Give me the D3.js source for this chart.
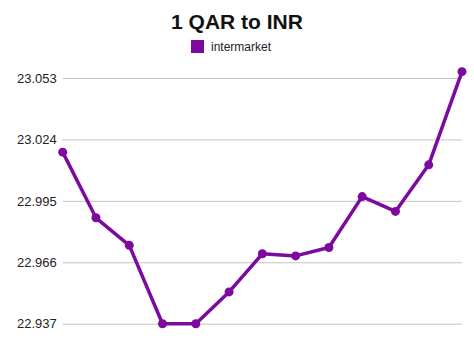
<!DOCTYPE html>
<html>
<head>
<meta charset="utf-8">
<script src="https://cdn.jsdelivr.net/npm/d3@7"></script>
<style>
  body { margin: 0; background: #fff; }
  text { font-family: "Liberation Sans", Arial, Helvetica, sans-serif; }
</style>
</head>
<body>
<svg class="chart"></svg>
<script>
const seriesName = "intermarket"
const values = [23.018, 22.987, 22.974, 22.937, 22.937, 22.952, 22.970, 22.969, 22.973, 22.997, 22.990, 23.012, 23.056]
const yTicks = [22.937, 22.966, 22.995, 23.024, 23.053]
const lineColor = "#7d0a9e"

const width = 474, height = 355
const margin = {top: 78, right: 12, bottom: 31.3, left: 62.7}

const svg = d3.select(".chart")
    .attr("width", width)
    .attr("height", height)

svg.append("rect")
    .attr("width", width)
    .attr("height", height)
    .attr("fill", "#fff")

svg.append("text")
    .attr("x", 237)
    .attr("y", 29)
    .attr("text-anchor", "middle")
    .attr("font-size", 21)
    .attr("font-weight", "bold")
    .attr("fill", "#111")
    .text("1 QAR to INR")

// legend
svg.append("rect")
    .attr("x", 191)
    .attr("y", 40)
    .attr("width", 13)
    .attr("height", 13)
    .attr("fill", lineColor)

svg.append("text")
    .attr("x", 211)
    .attr("y", 50.5)
    .attr("font-size", 12)
    .attr("fill", "#222")
    .text(seriesName)

const xScale = d3.scaleLinear()
    .domain([0, values.length - 1])
    .range([margin.left, width - margin.right])

const yScale = d3.scaleLinear()
    .domain([22.937, 23.053])
    .range([height - margin.bottom, margin.top])

// gridlines + labels
const yAxis = svg.append("g")
    .attr("transform", `translate(${margin.left},0)`)
    .call(d3.axisLeft(yScale)
        .tickValues(yTicks)
        .tickFormat(d3.format(".3f"))
        .tickSize(-(width - margin.right - margin.left))
        .tickPadding(6))

yAxis.select(".domain").remove()
yAxis.selectAll(".tick line")
    .attr("stroke", "#c4c4c4")
    .attr("stroke-width", 1)
yAxis.selectAll(".tick text")
    .attr("font-size", 13)
    .attr("font-family", "Liberation Sans, Arial, sans-serif")
    .attr("fill", "#222")

const line = d3.line()
    .x((d, i) => xScale(i))
    .y(d => yScale(d))

svg.append("path")
    .datum(values)
    .attr("d", line)
    .attr("fill", "none")
    .attr("stroke", lineColor)
    .attr("stroke-width", 3.5)
    .attr("stroke-linejoin", "round")

svg.selectAll(".dot")
    .data(values)
    .enter().append("circle")
    .attr("class", "dot")
    .attr("cx", (d, i) => xScale(i))
    .attr("cy", d => yScale(d))
    .attr("r", 4.5)
    .attr("fill", lineColor)
</script>
</body>
</html>
